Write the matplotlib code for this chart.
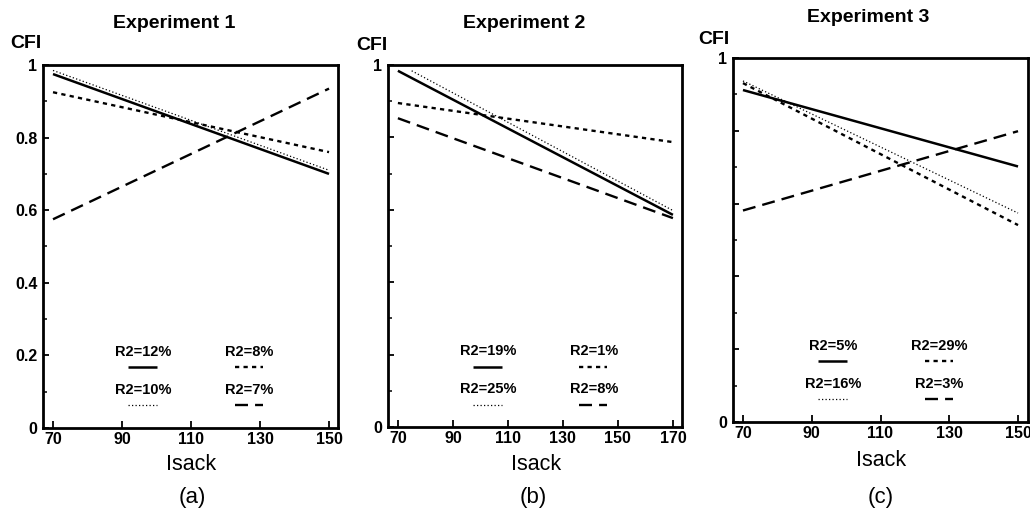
import numpy as np
import matplotlib.pyplot as plt
from matplotlib.ticker import MultipleLocator

plt.rcParams['font.family'] = ['Liberation Sans', 'DejaVu Sans']

# fitted CFI lines, end points over the Isack range
isack_1 = [70, 150]
exp1_solid = [0.975, 0.700]
exp1_dotted = [0.985, 0.710]
exp1_short = [0.925, 0.760]
exp1_long = [0.575, 0.935]
r2_exp1 = ["12%", "8%", "10%", "7%"]

isack_2 = [70, 170]
isack_2_dotted = [75, 170]
exp2_solid = [0.984, 0.586]
exp2_dotted = [0.984, 0.598]
exp2_short = [0.895, 0.787]
exp2_long = [0.853, 0.577]
r2_exp2 = ["19%", "1%", "25%", "8%"]

isack_3 = [70, 150]
exp3_solid = [0.912, 0.702]
exp3_dotted = [0.937, 0.574]
exp3_short = [0.931, 0.541]
exp3_long = [0.581, 0.799]
r2_exp3 = ["5%", "29%", "16%", "3%"]

titles = ["Experiment 1", "Experiment 2", "Experiment 3"]
panel_tags = ["(a)", "(b)", "(c)"]

W, H = 1030, 512
fig = plt.figure(figsize=(W / 100, H / 100), dpi=100)

# line styles: solid, dotted, short dash, long dash
styles = [
    dict(ls="-", lw=1.8),
    dict(ls=(0, (1, 1.8)), lw=0.9),
    dict(ls=(0, (1.8, 1.8)), lw=1.7),
    dict(ls=(0, (5.5, 3)), lw=1.7),
]


def px(x, y):
    return x / W, 1 - y / H


def panel(box, xlim, xticks, series, r2, label_all):
    ax = fig.add_axes(box)
    for (xs, ys), st in zip(series, styles):
        ax.plot(xs, ys, color="black", solid_capstyle="butt", **st)

    # R2 key inside the plot (solid, short dash / dotted, long dash)
    key = [(0.34, 0.21, 0.288, 0.388, r2[0], styles[0]),
           (0.70, 0.21, 0.650, 0.746, r2[1], styles[2]),
           (0.34, 0.105, 0.288, 0.388, r2[2], styles[1]),
           (0.70, 0.105, 0.650, 0.746, r2[3], styles[3])]
    for tx, ty, x0, x1, txt, st in key:
        ax.text(tx, ty, "R2=" + txt, transform=ax.transAxes, ha="center",
                va="center", fontsize=10.5, fontweight="bold")
        ax.plot([x0, x1], [ty - 0.043, ty - 0.043], color="black",
                transform=ax.transAxes, solid_capstyle="butt", **st)

    ax.set_xlim(*xlim)
    ax.set_ylim(0, 1)
    ax.set_xticks(xticks)
    ax.set_xticklabels([str(v) for v in xticks])
    yt = np.round(np.arange(0, 1.01, 0.2), 1)
    ax.set_yticks(yt)
    ax.yaxis.set_minor_locator(MultipleLocator(0.1))
    if label_all:
        ax.set_yticklabels(["0" if v == 0 else "1" if v == 1 else f"{v:.1f}" for v in yt])
    else:
        ax.set_yticklabels(["0" if v == 0 else "1" if v == 1 else "" for v in yt])
    ax.tick_params(direction="in", width=1.3, length=4, labelsize=11.5, pad=4)
    ax.tick_params(axis="x", length=5, pad=3)
    ax.tick_params(axis="y", which="minor", direction="in", length=3, width=1.1)
    ax.tick_params(axis="x", which="minor", bottom=False)
    for lab in ax.get_xticklabels() + ax.get_yticklabels():
        lab.set_fontweight("bold")
    for s in ax.spines.values():
        s.set_linewidth(2.0)
    return ax


panel([43 / W, 1 - 428 / H, 295 / W, 363 / H], (67.1, 152.6), range(70, 151, 20),
      [(isack_1, exp1_solid), (isack_1, exp1_dotted), (isack_1, exp1_short), (isack_1, exp1_long)],
      r2_exp1, True)
panel([388 / W, 1 - 427 / H, 294 / W, 362 / H], (66.4, 173.3), range(70, 171, 20),
      [(isack_2, exp2_solid), (isack_2_dotted, exp2_dotted), (isack_2, exp2_short), (isack_2, exp2_long)],
      r2_exp2, False)
panel([733 / W, 1 - 422 / H, 295 / W, 364 / H], (67.1, 152.9), range(70, 151, 20),
      [(isack_3, exp3_solid), (isack_3, exp3_dotted), (isack_3, exp3_short), (isack_3, exp3_long)],
      r2_exp3, False)

# titles, axis names and panel tags
title_pos = [(174, 23), (524, 23), (868, 18)]
cfi_pos = [(26, 43), (372, 45), (714, 40)]
isack_pos = [(191, 465), (536, 465), (881, 460)]
tag_pos = [(192, 497), (533, 498), (881, 497)]
for i in range(3):
    fig.text(*px(*title_pos[i]), titles[i], ha="center", va="center",
             fontsize=14, fontweight="bold")
    fig.text(*px(*cfi_pos[i]), "CFI", ha="center", va="center",
             fontsize=14, fontweight="bold")
    fig.text(*px(*isack_pos[i]), "Isack", ha="center", va="center", fontsize=15.5)
    fig.text(*px(*tag_pos[i]), panel_tags[i], ha="center", va="center", fontsize=16)

fig.savefig("out.png", dpi=100)
